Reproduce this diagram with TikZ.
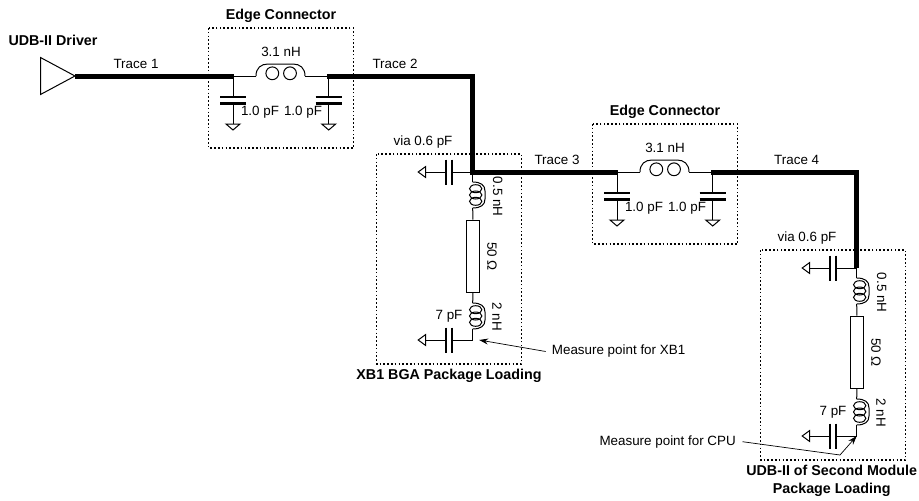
\documentclass[tikz,border=0pt]{standalone}
\usepackage{fontspec}
\setmainfont{Liberation Sans}
\usetikzlibrary{arrows.meta}
\tikzset{
  trace/.style={line width=5pt,line join=miter},
  wire/.style={line width=1pt},
  part/.style={inner sep=0pt},
  val/.style={part,font=\fontsize{13.4}{14}\selectfont},
  head/.style={part,font=\fontsize{14.3}{15}\bfseries\selectfont},
  zone/.style={line width=1.2pt,dash pattern=on 1.6pt off 2.2pt},
  hcoil/.pic={
    \draw[wire] (0,0) .. controls (0,-8) and (5,-12) .. (12,-12) -- (37,-12) .. controls (44,-12) and (49,-8) .. (49,0);
    \draw[wire] (16.3,-2.7) circle [radius=6.4];
    \draw[wire] (34,-2.7) circle [radius=6.4];
  },
  vcoil/.pic={
    \draw[wire] (0,0) .. controls (8,0) and (12.3,3) .. (12.3,9) -- (12.3,17) .. controls (12.3,23) and (8,26) .. (0,26);
    \foreach \yy in {6.7,13,19.3}
      \draw[wire] (3,\yy) ellipse [x radius=6.2,y radius=4];
  },
  downcap/.pic={
    \draw[line width=2.2pt] (-13,21) -- (13,21) (-13,27.5) -- (13,27.5);
    \draw[wire] (0,0) -- (0,21) (0,27.5) -- (0,48);
    \draw[wire] (-7,48) -- (7,48) -- (0,54) -- cycle;
  },
  leftcap/.pic={
    \draw[line width=2.2pt] (-26.5,-12.5) -- (-26.5,12.5) (-20.5,-12.5) -- (-20.5,12.5);
    \draw[wire] (0,0) -- (-20.5,0) (-26.5,0) -- (-47,0);
    \draw[wire] (-47,-5.5) -- (-47,5.5) -- (-54.5,0) -- cycle;
  },
  edgeconn/.pic={
    \coordinate (-in) at (234,76);
    \coordinate (-out) at (327,76);
    \draw[zone] (208.7,28) rectangle (353.3,148);
    \node[head] (-name) at (281,16) {Edge Connector};
    \node[val] (-ind) at (281,52) {3.1 nH};
    \node[val] (-c1) at (260,112) {1.0 pF};
    \node[val] (-c2) at (303,112) {1.0 pF};
    \draw[wire] (-in) -- (256,76);
    \draw[wire] (305,76) -- (-out);
    \pic at (256,76) {hcoil};
    \pic at (233,76) {downcap};
    \pic at (328.7,76) {downcap};
  },
  pkgload/.pic={
    \coordinate (-top) at (472.7,172);
    \coordinate (-low) at (472.7,340);
    \draw[zone] (376.7,154) rectangle (521.3,364);
    \node[val] (-via) at (423,142) {via 0.6 pF};
    \node[val,rotate=-90] (-ls) at (497.7,196.7) {0.5 nH};
    \node[val,rotate=-90] (-rv) at (492,256.7) {50 Ω};
    \node[val,rotate=-90] (-lb) at (497,316.7) {2 nH};
    \node[val] (-cv) at (449,316) {7 pF};
    \node[part,draw,wire,minimum width=12.4pt,minimum height=72.3pt] (-res) at (472.9,256.2) {};
    \draw[wire] (-top) -- (472.7,182);
    \draw[wire] (472.7,208) -- (-res.north);
    \draw[wire] (-res.south) -- (472.7,303);
    \draw[wire] (472.7,329) -- (-low);
    \pic at (472.7,182) {vcoil};
    \pic at (472.7,303) {vcoil};
    \pic at (-top) {leftcap};
    \pic at (-low) {leftcap};
  }
}
\begin{document}
\begin{tikzpicture}[x=1pt,y=-1pt,>={Stealth[length=9pt,width=6pt]}]
  \useasboundingbox (0,0) rectangle (919,501);
  \pic (ec1) at (0,0) {edgeconn};
  \pic (ec2) at (384,96) {edgeconn};
  \pic (xb1) at (0,0) {pkgload};
  \pic (udb) at (384,96) {pkgload};
  % driver and the four traces
  \coordinate (drv) at (75,76);
  \draw[wire] (40.5,57.5) -- (40.5,94.5) -- (drv) -- cycle;
  \draw[trace] (drv) -- (ec1-in);
  \draw[trace] (ec1-out) -- (xb1-top |- ec1-out) -- ([yshift=2.5pt]xb1-top);
  \draw[trace] (xb1-top) ++(-2.5,0) -- (ec2-in);
  \draw[trace] (ec2-out) -- (udb-top |- ec2-out) -- (udb-top);
  % labels
  \node[head] (drvname) at (53,40) {UDB-II Driver};
  \node[val] (t1) at (136,63.5) {Trace 1};
  \node[val] (t2) at (395,63.5) {Trace 2};
  \node[val] (t3) at (557,160) {Trace 3};
  \node[val] (t4) at (796.7,160) {Trace 4};
  \node[head] (xbname) at (449,376) {XB1 BGA Package Loading};
  \node[head,align=center] (udbname) at (831.7,481) {UDB-II of Second Module\\[3pt]Package Loading};
  % measure points
  \node[val,anchor=west] (mxb) at (551.7,351.5) {Measure point for XB1};
  \node[val,anchor=east] (mcpu) at (736,441.7) {Measure point for CPU};
  \draw[->,line width=0.7pt] (mxb.west) ++(-6,0) -- ([xshift=6.5pt]xb1-low);
  \draw[->,line width=0.7pt] (mcpu.east) ++(6.5,0) -- (840,455) -- (udb-low);
\end{tikzpicture}
\end{document}
